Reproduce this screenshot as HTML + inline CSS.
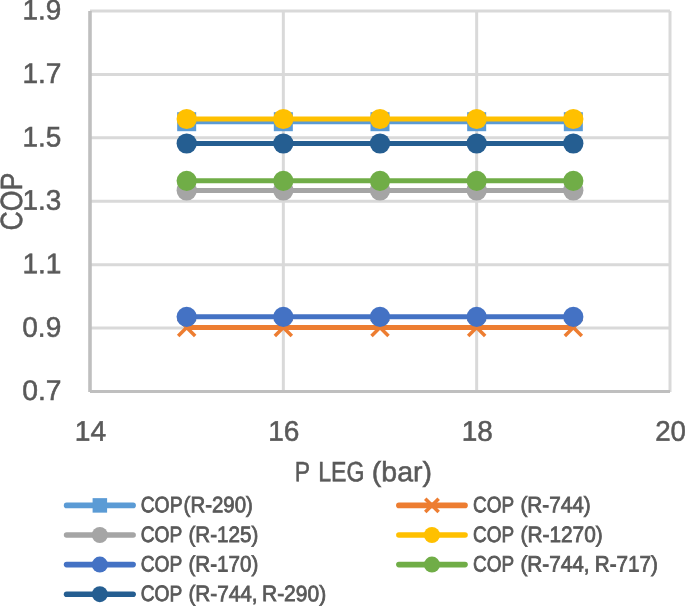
<!DOCTYPE html>
<html><head><meta charset="utf-8"><style>
html,body{margin:0;padding:0;background:#fff;width:685px;height:606px;overflow:hidden;position:relative}
</style></head><body>
<svg width="685" height="606" viewBox="0 0 685 606" style="position:absolute;left:0;top:0;filter:blur(0.35px)">
<line x1="90.0" y1="11.00" x2="670.0" y2="11.00" stroke="#D9D9D9" stroke-width="3"/>
<line x1="90.0" y1="74.42" x2="670.0" y2="74.42" stroke="#D9D9D9" stroke-width="3"/>
<line x1="90.0" y1="137.83" x2="670.0" y2="137.83" stroke="#D9D9D9" stroke-width="3"/>
<line x1="90.0" y1="201.25" x2="670.0" y2="201.25" stroke="#D9D9D9" stroke-width="3"/>
<line x1="90.0" y1="264.67" x2="670.0" y2="264.67" stroke="#D9D9D9" stroke-width="3"/>
<line x1="90.0" y1="328.08" x2="670.0" y2="328.08" stroke="#D9D9D9" stroke-width="3"/>
<line x1="283.33" y1="11.0" x2="283.33" y2="392.0" stroke="#D9D9D9" stroke-width="3"/>
<line x1="476.67" y1="11.0" x2="476.67" y2="392.0" stroke="#D9D9D9" stroke-width="3"/>
<line x1="670.00" y1="11.0" x2="670.00" y2="392.0" stroke="#D9D9D9" stroke-width="3"/>
<line x1="90.0" y1="11.0" x2="90.0" y2="391.9" stroke="#BFBFBF" stroke-width="3.6"/>
<line x1="90.0" y1="391.5" x2="670.0" y2="391.5" stroke="#BFBFBF" stroke-width="3"/>
<polyline points="186.67,121.7 283.33,121.7 380.00,121.7 476.67,121.7 573.33,121.7" fill="none" stroke="#5B9BD5" stroke-width="5.0" stroke-linejoin="round" stroke-linecap="round"/>
<rect x="177.17" y="112.20" width="19.0" height="19.0" fill="#5B9BD5"/>
<rect x="273.83" y="112.20" width="19.0" height="19.0" fill="#5B9BD5"/>
<rect x="370.50" y="112.20" width="19.0" height="19.0" fill="#5B9BD5"/>
<rect x="467.17" y="112.20" width="19.0" height="19.0" fill="#5B9BD5"/>
<rect x="563.83" y="112.20" width="19.0" height="19.0" fill="#5B9BD5"/>
<polyline points="186.67,327.5 283.33,327.5 380.00,327.5 476.67,327.5 573.33,327.5" fill="none" stroke="#ED7D31" stroke-width="5.0" stroke-linejoin="round" stroke-linecap="round"/>
<path d="M178.17 319.00L195.17 336.00M195.17 319.00L178.17 336.00" stroke="#ED7D31" stroke-width="3.5" fill="none"/>
<path d="M274.83 319.00L291.83 336.00M291.83 319.00L274.83 336.00" stroke="#ED7D31" stroke-width="3.5" fill="none"/>
<path d="M371.50 319.00L388.50 336.00M388.50 319.00L371.50 336.00" stroke="#ED7D31" stroke-width="3.5" fill="none"/>
<path d="M468.17 319.00L485.17 336.00M485.17 319.00L468.17 336.00" stroke="#ED7D31" stroke-width="3.5" fill="none"/>
<path d="M564.83 319.00L581.83 336.00M581.83 319.00L564.83 336.00" stroke="#ED7D31" stroke-width="3.5" fill="none"/>
<polyline points="186.67,190.5 283.33,190.5 380.00,190.5 476.67,190.5 573.33,190.5" fill="none" stroke="#A5A5A5" stroke-width="5.0" stroke-linejoin="round" stroke-linecap="round"/>
<circle cx="186.67" cy="190.50" r="10.1" fill="#A5A5A5"/>
<circle cx="283.33" cy="190.50" r="10.1" fill="#A5A5A5"/>
<circle cx="380.00" cy="190.50" r="10.1" fill="#A5A5A5"/>
<circle cx="476.67" cy="190.50" r="10.1" fill="#A5A5A5"/>
<circle cx="573.33" cy="190.50" r="10.1" fill="#A5A5A5"/>
<polyline points="186.67,119.0 283.33,119.0 380.00,119.0 476.67,119.0 573.33,119.0" fill="none" stroke="#FFC000" stroke-width="5.0" stroke-linejoin="round" stroke-linecap="round"/>
<circle cx="186.67" cy="119.00" r="10.1" fill="#FFC000"/>
<circle cx="283.33" cy="119.00" r="10.1" fill="#FFC000"/>
<circle cx="380.00" cy="119.00" r="10.1" fill="#FFC000"/>
<circle cx="476.67" cy="119.00" r="10.1" fill="#FFC000"/>
<circle cx="573.33" cy="119.00" r="10.1" fill="#FFC000"/>
<polyline points="186.67,316.8 283.33,316.8 380.00,316.8 476.67,316.8 573.33,316.8" fill="none" stroke="#4472C4" stroke-width="5.0" stroke-linejoin="round" stroke-linecap="round"/>
<circle cx="186.67" cy="316.80" r="10.1" fill="#4472C4"/>
<circle cx="283.33" cy="316.80" r="10.1" fill="#4472C4"/>
<circle cx="380.00" cy="316.80" r="10.1" fill="#4472C4"/>
<circle cx="476.67" cy="316.80" r="10.1" fill="#4472C4"/>
<circle cx="573.33" cy="316.80" r="10.1" fill="#4472C4"/>
<polyline points="186.67,180.8 283.33,180.8 380.00,180.8 476.67,180.8 573.33,180.8" fill="none" stroke="#70AD47" stroke-width="5.0" stroke-linejoin="round" stroke-linecap="round"/>
<circle cx="186.67" cy="180.80" r="10.1" fill="#70AD47"/>
<circle cx="283.33" cy="180.80" r="10.1" fill="#70AD47"/>
<circle cx="380.00" cy="180.80" r="10.1" fill="#70AD47"/>
<circle cx="476.67" cy="180.80" r="10.1" fill="#70AD47"/>
<circle cx="573.33" cy="180.80" r="10.1" fill="#70AD47"/>
<polyline points="186.67,143.5 283.33,143.5 380.00,143.5 476.67,143.5 573.33,143.5" fill="none" stroke="#255E91" stroke-width="5.0" stroke-linejoin="round" stroke-linecap="round"/>
<circle cx="186.67" cy="143.50" r="10.1" fill="#255E91"/>
<circle cx="283.33" cy="143.50" r="10.1" fill="#255E91"/>
<circle cx="380.00" cy="143.50" r="10.1" fill="#255E91"/>
<circle cx="476.67" cy="143.50" r="10.1" fill="#255E91"/>
<circle cx="573.33" cy="143.50" r="10.1" fill="#255E91"/>
<text transform="translate(22.43,19.60) rotate(0.05) scale(0.9836,1)" font-family='"Liberation Sans", sans-serif' font-size="28.4" fill="#595959" stroke="#595959" stroke-width="0.55">1.9</text>
<text transform="translate(22.42,83.02) rotate(0.05) scale(0.9903,1)" font-family='"Liberation Sans", sans-serif' font-size="28.4" fill="#595959" stroke="#595959" stroke-width="0.55">1.7</text>
<text transform="translate(22.43,146.43) rotate(0.05) scale(0.9836,1)" font-family='"Liberation Sans", sans-serif' font-size="28.4" fill="#595959" stroke="#595959" stroke-width="0.55">1.5</text>
<text transform="translate(22.43,209.85) rotate(0.05) scale(0.9836,1)" font-family='"Liberation Sans", sans-serif' font-size="28.4" fill="#595959" stroke="#595959" stroke-width="0.55">1.3</text>
<text transform="translate(22.42,273.27) rotate(0.05) scale(0.9903,1)" font-family='"Liberation Sans", sans-serif' font-size="28.4" fill="#595959" stroke="#595959" stroke-width="0.55">1.1</text>
<text transform="translate(22.26,336.68) rotate(0.05) scale(0.9881,1)" font-family='"Liberation Sans", sans-serif' font-size="28.4" fill="#595959" stroke="#595959" stroke-width="0.55">0.9</text>
<text transform="translate(22.25,400.10) rotate(0.05) scale(0.9947,1)" font-family='"Liberation Sans", sans-serif' font-size="28.4" fill="#595959" stroke="#595959" stroke-width="0.55">0.7</text>
<text transform="translate(74.71,440.75) rotate(0.05) scale(0.9931,1)" font-family='"Liberation Sans", sans-serif' font-size="28.4" fill="#595959" stroke="#595959" stroke-width="0.55">14</text>
<text transform="translate(268.22,440.75) rotate(0.05) scale(0.9878,1)" font-family='"Liberation Sans", sans-serif' font-size="28.4" fill="#595959" stroke="#595959" stroke-width="0.55">16</text>
<text transform="translate(461.68,440.75) rotate(0.05) scale(0.9843,1)" font-family='"Liberation Sans", sans-serif' font-size="28.4" fill="#595959" stroke="#595959" stroke-width="0.55">18</text>
<text transform="translate(655.18,440.75) rotate(0.05) scale(0.9763,1)" font-family='"Liberation Sans", sans-serif' font-size="28.4" fill="#595959" stroke="#595959" stroke-width="0.55">20</text>
<text transform="translate(294.86,481.30) rotate(0.05) scale(0.8194,1)" font-family='"Liberation Sans", sans-serif' font-size="28" fill="#595959" stroke="#595959" stroke-width="0.55">P</text>
<text transform="translate(318.25,481.30) rotate(0.05) scale(0.8268,1)" font-family='"Liberation Sans", sans-serif' font-size="28" fill="#595959" stroke="#595959" stroke-width="0.55">LEG</text>
<text transform="translate(371.87,481.30) rotate(0.05) scale(1.0169,1)" font-family='"Liberation Sans", sans-serif' font-size="28" fill="#595959" stroke="#595959" stroke-width="0.55">(bar)</text>
<text transform="translate(21.90,230.49) rotate(-89.95) scale(0.8688,1)" font-family='"Liberation Sans", sans-serif' font-size="30.7" fill="#595959" stroke="#595959" stroke-width="0.55">COP</text>
<line x1="66.6" y1="505.4" x2="133.1" y2="505.4" stroke="#5B9BD5" stroke-width="5.6" stroke-linecap="round"/>
<rect x="92.60" y="498.15" width="14.5" height="14.5" fill="#5B9BD5"/>
<text transform="translate(140.65,512.30) rotate(0.05) scale(0.8710,1)" font-family='"Liberation Sans", sans-serif' font-size="22.2" fill="#595959" stroke="#595959" stroke-width="0.8">COP</text>
<text transform="translate(183.58,512.30) rotate(0.05) scale(0.9215,1)" font-family='"Liberation Sans", sans-serif' font-size="22.2" fill="#595959" stroke="#595959" stroke-width="0.8">(R-290)</text>
<line x1="66.6" y1="535.0" x2="133.1" y2="535.0" stroke="#A5A5A5" stroke-width="5.6" stroke-linecap="round"/>
<circle cx="99.85" cy="535.00" r="8.0" fill="#A5A5A5"/>
<text transform="translate(140.65,541.90) rotate(0.05) scale(0.8645,1)" font-family='"Liberation Sans", sans-serif' font-size="22.2" fill="#595959" stroke="#595959" stroke-width="0.8">COP</text>
<text transform="translate(188.47,541.90) rotate(0.05) scale(0.9283,1)" font-family='"Liberation Sans", sans-serif' font-size="22.2" fill="#595959" stroke="#595959" stroke-width="0.8">(R-125)</text>
<line x1="66.6" y1="564.6" x2="133.1" y2="564.6" stroke="#4472C4" stroke-width="5.6" stroke-linecap="round"/>
<circle cx="99.85" cy="564.60" r="8.0" fill="#4472C4"/>
<text transform="translate(140.65,571.50) rotate(0.05) scale(0.8645,1)" font-family='"Liberation Sans", sans-serif' font-size="22.2" fill="#595959" stroke="#595959" stroke-width="0.8">COP</text>
<text transform="translate(188.47,571.50) rotate(0.05) scale(0.9283,1)" font-family='"Liberation Sans", sans-serif' font-size="22.2" fill="#595959" stroke="#595959" stroke-width="0.8">(R-170)</text>
<line x1="66.6" y1="594.2" x2="133.1" y2="594.2" stroke="#255E91" stroke-width="5.6" stroke-linecap="round"/>
<circle cx="99.85" cy="594.20" r="8.0" fill="#255E91"/>
<text transform="translate(140.65,601.10) rotate(0.05) scale(0.8645,1)" font-family='"Liberation Sans", sans-serif' font-size="22.2" fill="#595959" stroke="#595959" stroke-width="0.8">COP</text>
<text transform="translate(188.47,601.10) rotate(0.05) scale(0.9343,1)" font-family='"Liberation Sans", sans-serif' font-size="22.2" fill="#595959" stroke="#595959" stroke-width="0.8">(R-744,</text>
<text transform="translate(261.98,601.10) rotate(0.05) scale(0.9456,1)" font-family='"Liberation Sans", sans-serif' font-size="22.2" fill="#595959" stroke="#595959" stroke-width="0.8">R-290)</text>
<line x1="398.90000000000003" y1="505.4" x2="465.0" y2="505.4" stroke="#ED7D31" stroke-width="5.6" stroke-linecap="round"/>
<path d="M425.25 498.70L438.65 512.10M438.65 498.70L425.25 512.10" stroke="#ED7D31" stroke-width="3.5" fill="none"/>
<text transform="translate(473.06,512.30) rotate(0.05) scale(0.8538,1)" font-family='"Liberation Sans", sans-serif' font-size="22.2" fill="#595959" stroke="#595959" stroke-width="0.8">COP</text>
<text transform="translate(520.47,512.30) rotate(0.05) scale(0.9324,1)" font-family='"Liberation Sans", sans-serif' font-size="22.2" fill="#595959" stroke="#595959" stroke-width="0.8">(R-744)</text>
<line x1="398.90000000000003" y1="535.0" x2="465.0" y2="535.0" stroke="#FFC000" stroke-width="5.6" stroke-linecap="round"/>
<circle cx="431.95" cy="535.00" r="8.0" fill="#FFC000"/>
<text transform="translate(473.06,541.90) rotate(0.05) scale(0.8538,1)" font-family='"Liberation Sans", sans-serif' font-size="22.2" fill="#595959" stroke="#595959" stroke-width="0.8">COP</text>
<text transform="translate(520.46,541.90) rotate(0.05) scale(0.9392,1)" font-family='"Liberation Sans", sans-serif' font-size="22.2" fill="#595959" stroke="#595959" stroke-width="0.8">(R-1270)</text>
<line x1="398.90000000000003" y1="564.6" x2="465.0" y2="564.6" stroke="#70AD47" stroke-width="5.6" stroke-linecap="round"/>
<circle cx="431.95" cy="564.60" r="8.0" fill="#70AD47"/>
<text transform="translate(473.06,571.50) rotate(0.05) scale(0.8538,1)" font-family='"Liberation Sans", sans-serif' font-size="22.2" fill="#595959" stroke="#595959" stroke-width="0.8">COP</text>
<text transform="translate(520.47,571.50) rotate(0.05) scale(0.9343,1)" font-family='"Liberation Sans", sans-serif' font-size="22.2" fill="#595959" stroke="#595959" stroke-width="0.8">(R-744,</text>
<text transform="translate(594.70,571.50) rotate(0.05) scale(0.9318,1)" font-family='"Liberation Sans", sans-serif' font-size="22.2" fill="#595959" stroke="#595959" stroke-width="0.8">R-717)</text>
</svg>
</body></html>
